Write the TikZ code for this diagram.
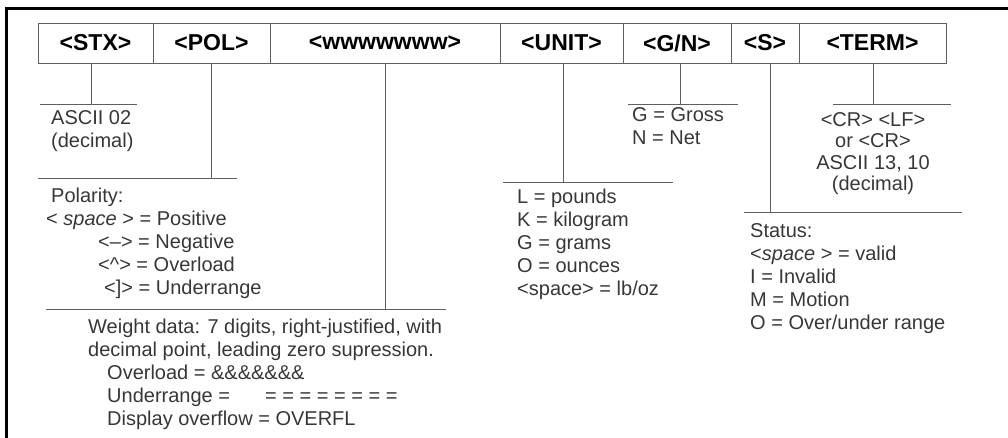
\documentclass[tikz,border=0pt]{standalone}
\usepackage{fontspec}
\setmainfont{Liberation Sans}
\usepackage{xcolor}
\usetikzlibrary{positioning}
\definecolor{linegray}{RGB}{95,95,95}
\definecolor{textgray}{RGB}{55,55,55}
\tikzset{
    field/.style = {rectangle, draw=linegray, line width=0.9pt, minimum height=40pt, inner sep=0pt, outer sep=0pt, text centered, text=black, font=\bfseries\fontsize{23}{26}\selectfont},
    rule/.style = {draw=linegray, line width=0.9pt},
    note/.style = {inner sep=0pt, anchor=north west, align=left, text=textgray, font=\fontsize{20}{23}\selectfont}
}
\begin{document}
\begin{tikzpicture}[x=1pt, y=-1pt]
    \useasboundingbox (0,0) rectangle (1008,438);

    % Frame
    \draw [line width=2.6pt] (6.5,438) -- (6.5,8.5) -- (1008,8.5);

    % Fields
    \node [field, minimum width=115pt, anchor=west] (stx) at (38,43) {<STX>};
    \node [field, minimum width=117pt, right=0pt of stx] (pol) {<POL>};
    \node [field, minimum width=230pt, right=0pt of pol] (wt) {<wwwwwww>};
    \node [field, minimum width=123pt, right=0pt of wt] (unit) {<UNIT>};
    \node [field, minimum width=108pt, right=0pt of unit] (gn) {<G/N>};
    \node [field, minimum width=68pt, right=0pt of gn] (stat) {<S>};
    \node [field, minimum width=147pt, right=0pt of stat] (term) {<TERM>};

    % Rules
    \coordinate (stxJ) at (91,104);
    \coordinate (polJ) at (211,178);
    \coordinate (wtJ) at (385,309);
    \coordinate (unitJ) at (563,182);
    \coordinate (gnJ) at (680,104);
    \coordinate (statJ) at (770,212);
    \coordinate (termJ) at (873,104);
    \draw [rule] (40,104) coordinate (stxL) -- (137,104) coordinate (stxR);
    \draw [rule] (38,178) coordinate (polL) -- (237,178) coordinate (polR);
    \draw [rule] (46,309) coordinate (wtL) -- (446,309) coordinate (wtR);
    \draw [rule] (503,182) coordinate (unitL) -- (673,182) coordinate (unitR);
    \draw [rule] (628,104) coordinate (gnL) -- (738,104) coordinate (gnR);
    \draw [rule] (744,212) coordinate (statL) -- (962,212) coordinate (statR);
    \draw [rule] (833,104) coordinate (termL) -- (951,104) coordinate (termR);

    % Leaders
    \foreach \f in {stx, pol, wt, unit, gn, stat, term}
        \draw [rule] (\f J |- \f.south) -- (\f J);

    % Notes
    \node [note] (stxnote) at (51,110) {ASCII 02\\(decimal)};
    \node [note] (polnote) at (46,188) {\hspace{5pt}Polarity:\\
        < \textit{space} > = Positive\\
        \hspace{52pt}<–> = Negative\\
        \hspace{52pt}<\textasciicircum> = Overload\\
        \hspace{58pt}<]> = Underrange};
    \node [note] (wtnote) at (88,319) {Weight data: 7 digits, right-justified, with\\
        decimal point, leading zero supression.\\
        \hspace{19pt}Overload = \&\&\&\&\&\&\&\\
        \hspace{19pt}Underrange = \hspace{24pt} = = = = = = = =\\
        \hspace{19pt}Display overflow = OVERFL};
    \node [note] (unitnote) at (517,189) {L = pounds\\
        K = kilogram\\
        G = grams\\
        O = ounces\\
        <space> = lb/oz};
    \node [note] (gnnote) at (632,107) {G = Gross\\N = Net};
    \node [note, anchor=north, align=center, font=\fontsize{20}{21.5}\selectfont] (termnote) at (873,112) {<CR> <LF>\\
        or <CR>\\
        ASCII 13, 10\\
        (decimal)};
    \node [note] (statnote) at (750,223) {Status:\\
        <\textit{space} > = valid\\
        I = Invalid\\
        M = Motion\\
        O = Over/under range};
\end{tikzpicture}
\end{document}
